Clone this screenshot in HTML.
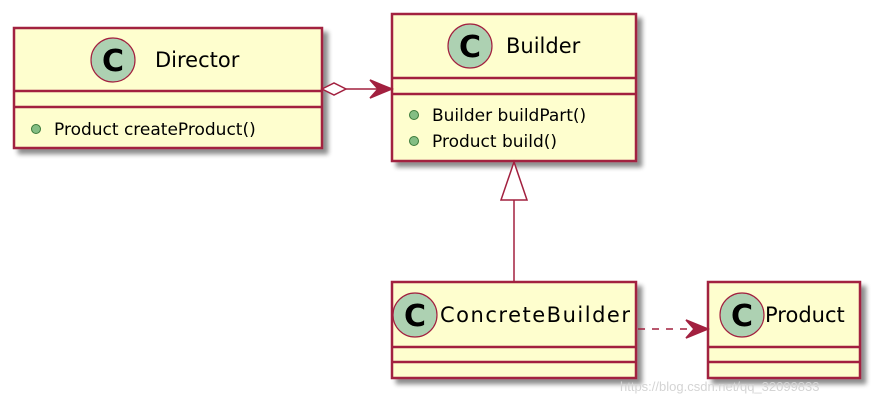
<!DOCTYPE html>
<html><head><meta charset="utf-8"><style>body{margin:0;background:#fff}svg{display:block}text{font-family:"DejaVu Sans","Liberation Sans",sans-serif;fill:#000}</style></head><body>
<svg width="886" height="404" viewBox="0 0 886 404" xmlns="http://www.w3.org/2000/svg">
<defs><filter id="sh" x="-10%" y="-10%" width="130%" height="140%"><feGaussianBlur in="SourceAlpha" stdDeviation="2.5"/><feOffset dx="5" dy="5"/><feComponentTransfer><feFuncA type="linear" slope="0.45"/></feComponentTransfer><feMerge><feMergeNode/><feMergeNode in="SourceGraphic"/></feMerge></filter></defs>
<g stroke="#A2203F" stroke-width="2.5" fill="#FEFECE">
<rect x="14" y="28" width="308" height="120" filter="url(#sh)"/>
<rect x="392" y="14" width="244" height="147" filter="url(#sh)"/>
<rect x="392" y="282" width="244" height="96" filter="url(#sh)"/>
<rect x="708" y="282" width="152" height="96" filter="url(#sh)"/>
<path d="M14 91H322M14 107H322M392 78H636M392 94H636M392 347H636M392 362H636M708 347H860M708 362H860" fill="none"/>
</g>
<g fill="#ADD1B2" stroke="#A2203F" stroke-width="1.2">
<circle cx="113" cy="60" r="22"/><circle cx="470" cy="46" r="22"/><circle cx="415" cy="315" r="22"/><circle cx="742" cy="315" r="22"/>
</g>
<g font-family="Liberation Sans,sans-serif" font-weight="bold" font-size="30" text-anchor="middle" style="font-family:'Liberation Sans',sans-serif">
<text x="113" y="71">C</text><text x="470" y="57">C</text><text x="415" y="326">C</text><text x="742" y="326">C</text>
</g>
<g font-size="21">
<text x="155" y="67">Director</text>
<text x="506" y="53">Builder</text>
<text x="440" y="322" textLength="190">ConcreteBuilder</text>
<text x="765" y="322">Product</text>
</g>
<g font-size="17">
<text x="54" y="135">Product createProduct()</text>
<text x="432" y="121">Builder buildPart()</text>
<text x="432" y="147">Product build()</text>
</g>
<g fill="#84BE84" stroke="#3A7A3A" stroke-width="1">
<circle cx="36" cy="129" r="4.5"/><circle cx="414" cy="115" r="4.5"/><circle cx="414" cy="141" r="4.5"/>
</g>
<g stroke="#A2203F" stroke-width="1.5" fill="none">
<path d="M346 89H390"/>
<path d="M322 89L334 83L346 89L334 95Z" fill="#fff"/>
<path d="M392 89L370 80L378 89L370 98Z" fill="#A2203F"/>
<path d="M514 200V282"/>
<path d="M514 162L501 200H527Z" fill="#fff"/>
<path d="M638 329H706" stroke-dasharray="7 7"/>
<path d="M708 329L686 320L694 329L686 338Z" fill="#A2203F"/>
</g>
<text x="620" y="391" font-size="13" fill="#ccc" style="fill:#d4d4d4;font-family:'Liberation Sans',sans-serif">https://blog.csdn.net/qq_32099833</text>
</svg>
</body></html>
